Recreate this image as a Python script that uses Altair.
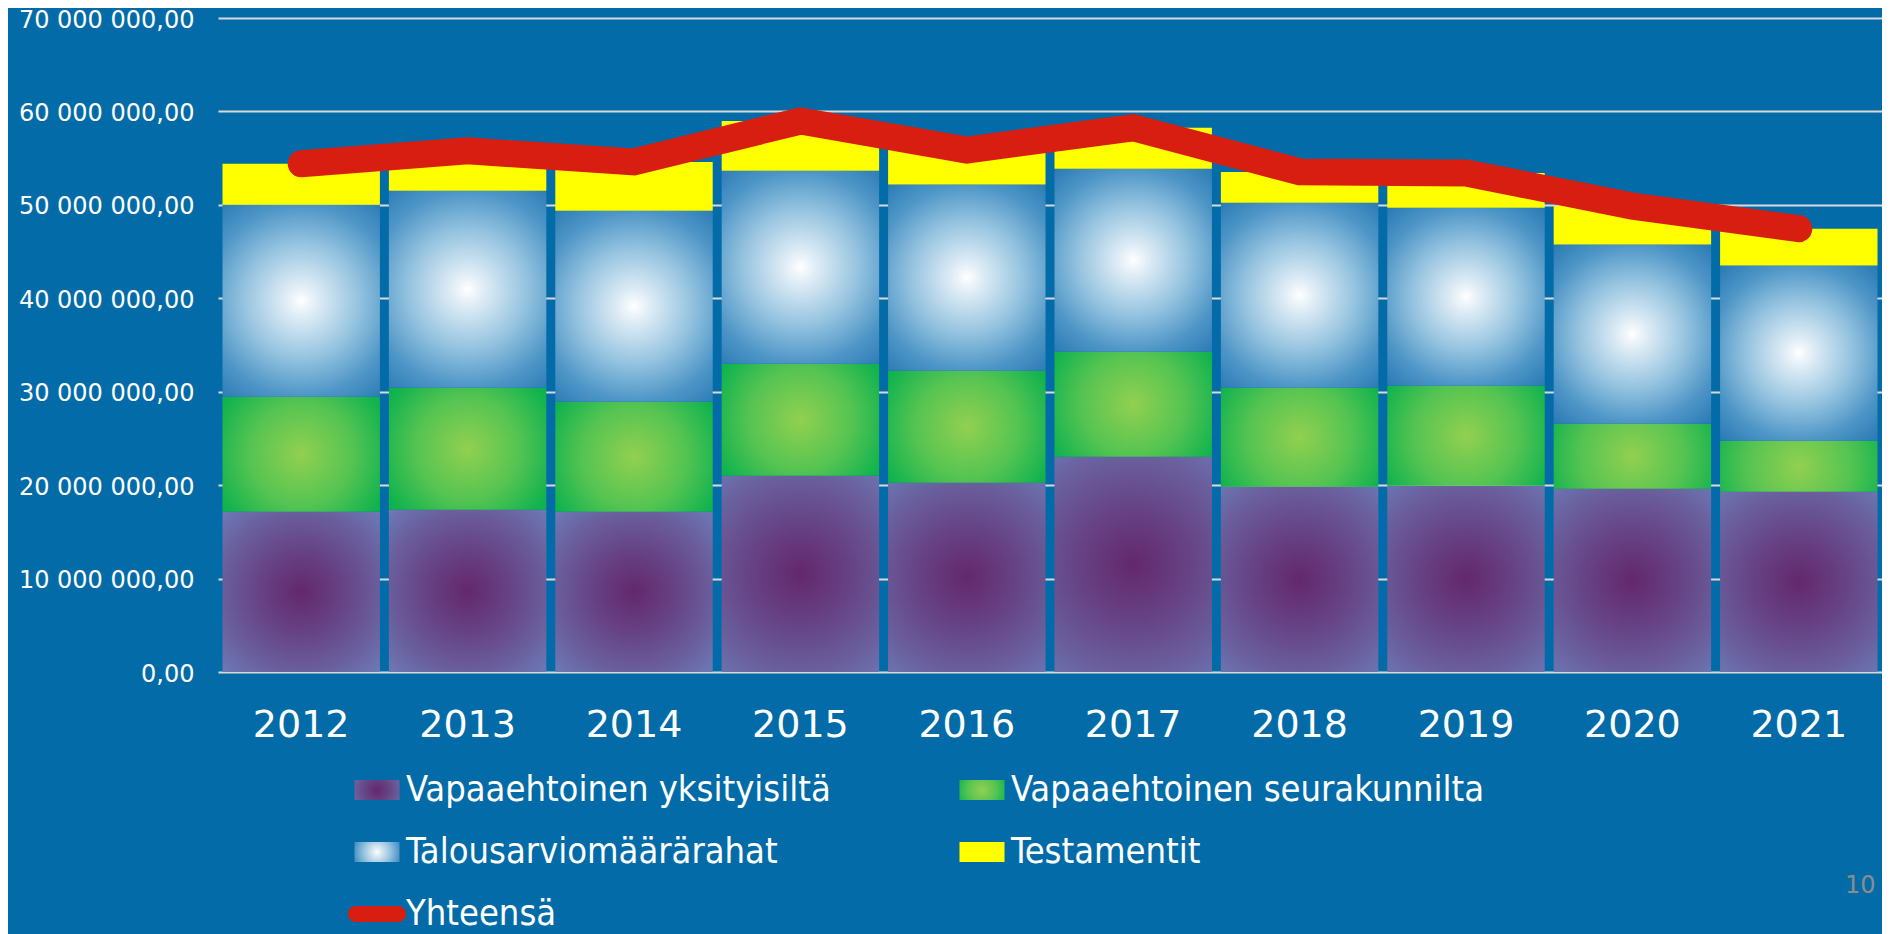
import altair as alt
import pandas as pd

years = ["2012", "2013", "2014", "2015", "2016", "2017", "2018", "2019", "2020", "2021"]
categories = ["Vapaaehtoinen yksityisiltä", "Vapaaehtoinen seurakunnilta",
              "Talousarviomäärärahat", "Testamentit"]
total_label = "Yhteensä"
page_number = "10"

yksityisilta = [17160000, 17370000, 17160000, 21000000, 20260000, 23040000, 19830000, 19940000, 19620000, 19300000]
seurakunnilta = [12310000, 13060000, 11770000, 11990000, 11990000, 11240000, 10600000, 10700000, 6960000, 5460000]
talousarvio = [20530000, 21070000, 20440000, 20670000, 19930000, 19590000, 19800000, 19050000, 19190000, 18760000]
testamentit = [4400000, 4280000, 5230000, 5310000, 3690000, 4380000, 3300000, 3730000, 4100000, 3930000]

y_ticks = [0, 10000000, 20000000, 30000000, 40000000, 50000000, 60000000, 70000000]

series = [yksityisilta, seurakunnilta, talousarvio, testamentit]
rows = []
for order, (cat, vals) in enumerate(zip(categories, series)):
    for yr, v in zip(years, vals):
        rows.append({"year": yr, "cat": cat, "value": v, "order": order})
df = pd.DataFrame(rows)
legend_df = pd.DataFrame({"cat": categories + [total_label]})

BG = "#036ca8"
RED = "#d81e11"
YELLOW = "#ffff00"

purple_stops = [(0, "#63286c"), (0.35, "#664385"), (0.667, "#6a5f9d"), (0.95, "#6c7cb8"), (1, "#6c80bc")]
green_stops = [(0, "#92d050"), (0.45, "#55c452"), (0.8, "#12b34f"), (1, "#00b04f")]
blue_stops = [(0, "#ffffff"), (0.1, "#e2eef6"), (0.4, "#95c3df"), (0.667, "#4d95c6"), (0.95, "#1f72af"), (1, "#1b6fad")]
grad_specs = [(purple_stops, 0.75), (green_stops, 0.72), (blue_stops, 0.75)]


def radial(stops, r2):
    return {"gradient": "radial", "x1": 0.5, "y1": 0.5, "r1": 0, "x2": 0.5, "y2": 0.5, "r2": r2,
            "stops": [{"offset": o, "color": c} for o, c in stops]}


def radial_js(stops, r2):
    st = ", ".join("{offset: %s, color: '%s'}" % (o, c) for o, c in stops)
    return ("{gradient: 'radial', x1: 0.5, y1: 0.5, r1: 0, x2: 0.5, y2: 0.5, r2: %s, stops: [%s]}"
            % (r2, st))


fills = [radial(*g) for g in grad_specs] + [YELLOW]

x_enc = alt.X("year:O", title=page_number,
              scale=alt.Scale(paddingInner=0.054, paddingOuter=0.027),
              axis=alt.Axis(labelAngle=0, labelFont="DejaVu Sans", labelFontSize=38,
                            labelColor="white", labelPadding=34, domain=False, ticks=False, grid=False,
                            titleFont="DejaVu Sans", titleFontSize=24, titleFontWeight="normal",
                            titleColor="#8c8c8c", titleAlign="right", titleBaseline="alphabetic",
                            titleAnchor="end", titleX=1657, titleY=220))
y_scale = alt.Scale(domain=[0, 70000000], nice=False)
y_axis = alt.Axis(values=y_ticks, format=",.2f", labelFont="DejaVu Sans", labelFontSize=24,
                  labelColor="white", labelPadding=24, labelOffset=2, domain=False, ticks=False,
                  grid=True, gridColor="#d9d9d9", gridWidth=2, gridOpacity=1)

layers = []
for i, (cat, fill) in enumerate(zip(categories, fills)):
    lay = (alt.Chart(df)
           .transform_stack(stack="value", groupby=["year"], as_=["v0", "v1"],
                            sort=[alt.SortField("order", order="ascending")])
           .transform_filter(alt.datum.cat == cat)
           .mark_bar(color=fill)
           .encode(x=x_enc,
                   y=alt.Y("v0:Q", title=None, scale=y_scale, axis=y_axis),
                   y2="v1:Q"))
    layers.append(lay)

line = (alt.Chart(df)
        .transform_aggregate(total="sum(value)", groupby=["year"])
        .mark_line(color=RED, strokeWidth=27, strokeCap="round", strokeJoin="miter")
        .encode(x=x_enc, y=alt.Y("total:Q", title=None, scale=y_scale, axis=y_axis)))
layers.append(line)

# legend: an empty layer whose shape scale carries the five entries
rect_path = "M-0.776,-0.345H0.776V0.345H-0.776Z"
capsule_path = ("M-0.724,-0.276H0.724A0.276,0.276 0 0 1 0.724,0.276"
                "H-0.724A0.276,0.276 0 0 1 -0.724,-0.276Z")

fill_expr = ""
for c, g in zip(categories[:3], grad_specs):
    fill_expr += "datum.value === '%s' ? %s : " % (c, radial_js(*g))
fill_expr += "datum.value === '%s' ? '%s' : '%s'" % (total_label, RED, YELLOW)

legend = alt.Legend(
    title=None, orient="none", legendX=130, legendY=743, columns=2, direction="horizontal",
    columnPadding=122, rowPadding=15, symbolSize=3364,
    symbolStrokeWidth=0, symbolStrokeColor="transparent", symbolOpacity=1,
    labelFont="DejaVu Sans Condensed", labelFontSize=36, labelColor="white",
    labelLimit=1000, labelOffset=0, padding=0)

dummy = (alt.Chart(legend_df)
         .transform_filter("false")
         .mark_point(filled=True, color=alt.ExprRef(expr=fill_expr))
         .encode(shape=alt.Shape("cat:N", sort=categories + [total_label],
                                 scale=alt.Scale(domain=categories + [total_label],
                                                 range=[rect_path] * 4 + [capsule_path]),
                                 legend=legend)))
layers.append(dummy)

chart = (alt.layer(*layers)
         .properties(width=1664, height=654,
                     autosize=alt.AutoSizeParams(type="none"),
                     padding={"left": 210, "top": 10, "right": 0, "bottom": 262})
         .configure(background=BG,
                    locale={"number": {"decimal": ",", "thousands": " ", "grouping": [3],
                                       "currency": ["", " €"]}})
         .configure_view(stroke=None))

chart.save("out.html", embed_options={"renderer": "svg", "actions": False})
